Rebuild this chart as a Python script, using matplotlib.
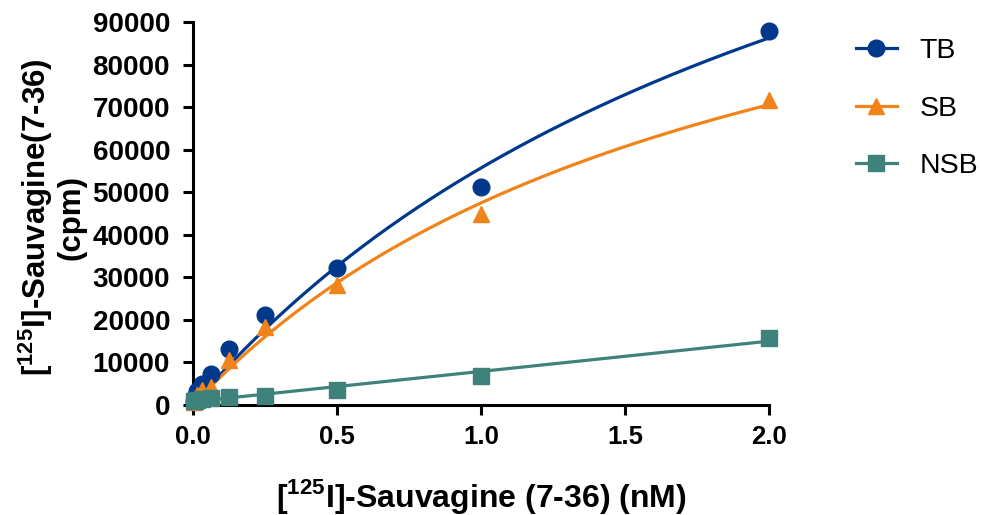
import numpy as np
import matplotlib
matplotlib.use("Agg")
import matplotlib.pyplot as plt

plt.rcParams['font.family'] = ['Liberation Sans', 'DejaVu Sans']
plt.rcParams['mathtext.fontset'] = 'custom'
plt.rcParams['mathtext.rm'] = 'Liberation Sans'
plt.rcParams['mathtext.bf'] = 'Liberation Sans:bold'

conc = [0.0039, 0.0078, 0.0156, 0.03125, 0.0625, 0.125, 0.25, 0.5, 1.0, 2.0]
tb = [950, 1900, 3300, 4900, 7200, 13100, 21200, 32100, 51200, 88000]
sb = [700, 1400, 2400, 3500, 4300, 10500, 18400, 28300, 44800, 71700]
nsb = [1000, 1000, 1100, 1300, 1700, 1900, 2100, 3600, 6700, 15800]

series_names = ["TB", "SB", "NSB"]
colors = ["#00398C", "#F0831A", "#3F827C"]
markers = ["o", "^", "s"]
xticks = [0.0, 0.5, 1.0, 1.5, 2.0]
yticks = list(range(0, 90001, 10000))

x = np.array(conc)


def fit_hyperbola(xd, yd):
    best = None
    for kd in np.linspace(0.05, 20, 4000):
        f = xd / (kd + xd)
        bmax = np.dot(f, yd) / np.dot(f, f)
        err = np.sum((yd - bmax * f) ** 2)
        if best is None or err < best[0]:
            best = (err, bmax, kd)
    return best[1], best[2]


xs = np.linspace(0, 2.0, 300)
b1, k1 = fit_hyperbola(x, np.array(tb))
b2, k2 = fit_hyperbola(x, np.array(sb))
p = np.polyfit(x, np.array(nsb), 1)
curves = [b1 * xs / (k1 + xs), b2 * xs / (k2 + xs), np.polyval(p, xs)]

fig = plt.figure(figsize=(9.82, 5.15), dpi=100)
ax = fig.add_axes([193 / 982, 1 - 405 / 515, (769 - 193) / 982, (405 - 22) / 515])

for name, ys, c, m, cv in zip(series_names, [tb, sb, nsb], colors, markers, curves):
    ax.plot(xs, cv, color=c, lw=2.3, zorder=2)
    ax.plot(x, ys, linestyle='none', marker=m, color=c, markersize=12, zorder=3,
            clip_on=False)
    ax.plot([], [], color=c, lw=2.3, marker=m, markersize=12, label=name)

ax.set_xlim(0, 2.0)
ax.set_ylim(0, 90000)
ax.set_xticks(xticks)
ax.set_xticklabels([f"{v:.1f}" for v in xticks], fontsize=18.5, fontweight='bold')
ax.set_yticks(yticks)
ax.set_yticklabels([str(v) for v in yticks], fontsize=20, fontweight='bold')
for s in ['top', 'right']:
    ax.spines[s].set_visible(False)
for s in ['left', 'bottom']:
    ax.spines[s].set_linewidth(2.2)
ax.tick_params(axis='both', which='major', width=2.2, length=7.5)
ax.tick_params(axis='y', pad=9)
ax.tick_params(axis='x', pad=7)

ax.set_xlabel(r"[$^{\mathbf{125}}$I]-Sauvagine (7-36) (nM)", fontsize=23, fontweight='bold')
ax.xaxis.set_label_coords(0.5, (405 - 477) / 383)
ax.set_ylabel("[$^{\\mathbf{125}}$I]-Sauvagine(7-36)\n(cpm)", fontsize=22.5, fontweight='bold',
              linespacing=1.1)
ax.yaxis.set_label_coords((87 - 193) / 576, 0.49)

leg = fig.legend(loc='upper left', bbox_to_anchor=(830 / 982, 1 - 12 / 515), frameon=False,
                 fontsize=20.5, handlelength=1.44, handletextpad=0.8, labelspacing=1.12)

fig.savefig("out.png", dpi=100)
